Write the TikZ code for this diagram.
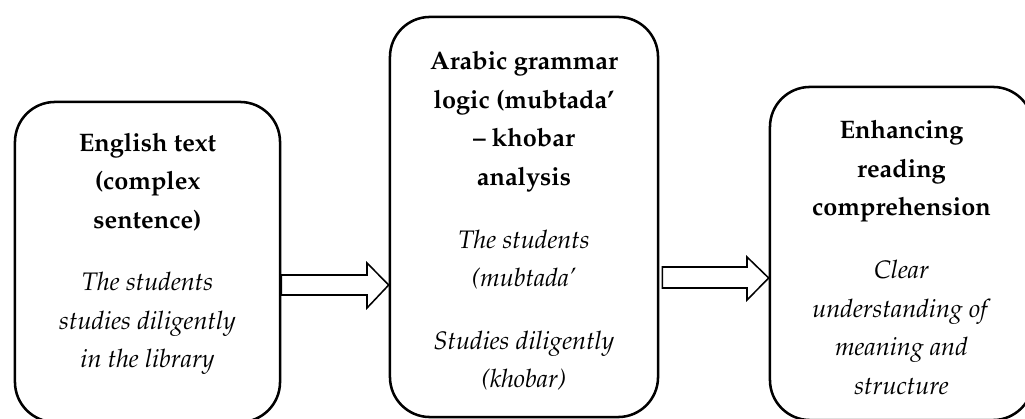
\documentclass[tikz,border=0pt]{standalone}
\usepackage[T1]{fontenc}
\usepackage{mathpazo}
\usepackage{tikz}
\usetikzlibrary{positioning, calc}
\tikzset{
  flowbox/.style={rectangle,rounded corners=1cm,draw=black,line width=1.8pt,inner sep=0pt},
  flowtext/.style={align=center,inner sep=0pt,font=\fontsize{18}{27.4}\selectfont},
  hollowarr/.style={draw=black,fill=white,line width=1.1pt,line join=miter}
}

\begin{document}
\begin{tikzpicture}[x=0.025cm,y=-0.025cm]
  \useasboundingbox (0,0) rectangle (1025,419);

  % the three rounded boxes
  \node[flowbox,minimum width=6.625cm,minimum height=8.0cm] (engbox) at (147.5,262) {};
  \node[flowbox,minimum width=6.7cm,minimum height=10.0cm] (arabbox) at (524,217) {};
  \node[flowbox,minimum width=6.575cm,minimum height=8.325cm] (readbox) at (901.5,253.5) {};

  \node[flowtext,yshift=0.2cm] (engtext) at (engbox.center)
      {\textbf{English text}\\\textbf{(complex}\\\textbf{sentence)}\\[0.6cm]
       \textit{The students}\\\textit{studies diligently}\\\textit{in the library}};
  \node[flowtext,yshift=-0.1cm] (arabtext) at (arabbox.center)
      {\textbf{Arabic grammar}\\\textbf{logic (mubtada'}\\\textbf{-- khobar}\\\textbf{analysis}\\[0.6cm]
       \textit{The students}\\\textit{(mubtada'}\\[0.6cm]
       \textit{Studies diligently}\\\textit{(khobar)}};
  \node[flowtext,yshift=-0.1cm] (readtext) at (readbox.center)
      {\textbf{Enhancing}\\\textbf{reading}\\\textbf{comprehension}\\[0.6cm]
       \textit{Clear}\\\textit{understanding of}\\\textit{meaning and}\\\textit{structure}};

  % hollow block arrows between the boxes
  \draw[hollowarr] (engbox.east |- 0,275) -- (367,275) -- (367,263) -- (arabbox.west |- 0,285)
      -- (367,308) -- (367,295) -- (engbox.east |- 0,295) -- cycle;
  \draw[hollowarr] ($(arabbox.east |- 0,267)+(3,0)$) -- (747,267) -- (747,257) -- (readbox.west |- 0,278)
      -- (747,300) -- (747,288) -- ($(arabbox.east |- 0,288)+(3,0)$) -- cycle;
\end{tikzpicture}
\end{document}
